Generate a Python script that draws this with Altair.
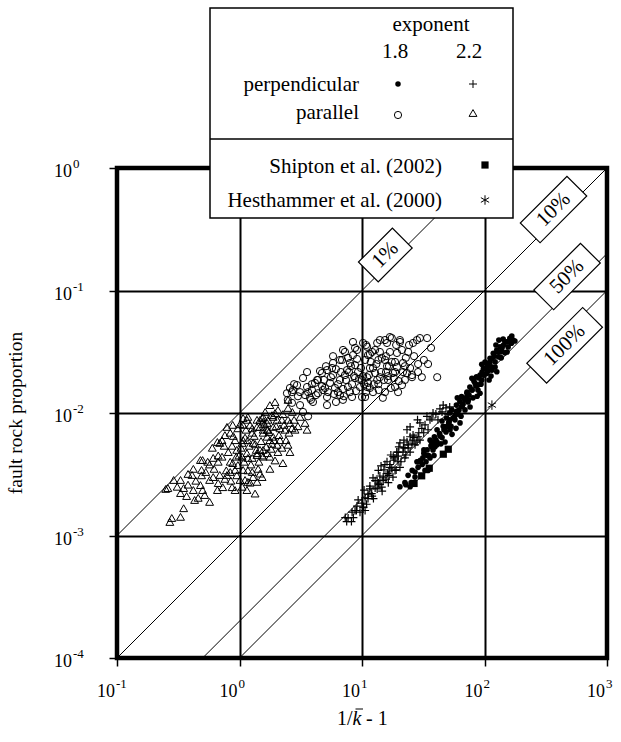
import altair as alt
import pandas as pd

# ---------------- data ----------------
# parallel, exponent 1.8 (open circles)
circ_x = [2.58, 2.68, 2.95, 3.12, 3.43, 3.63, 3.76, 4.13, 3.98, 4.37, 4.72, 4.80, 5.18, 5.18, 5.48,
          5.80, 6.02, 6.37, 6.61, 6.87, 6.99, 7.26, 7.54, 7.68, 7.98, 8.29, 8.44, 8.77, 9.11, 9.28,
          9.63, 10.0, 10.2, 10.6, 11.0, 11.2, 11.6, 12.1, 12.3, 12.8, 13.3, 13.6, 14.0, 14.8, 15.4,
          16.0, 16.3, 16.9, 17.5, 17.9, 18.6, 19.3, 20.4, 21.2, 21.6, 23.3, 25.6, 26.1, 28.1, 29.7,
          3.12, 3.30, 3.63, 2.48, 2.68, 16.9, 20.4, 34.0, 28.7, 34.6, 41.1, 30.8, 25.6, 15.4, 10.6,
          5.7, 7.26, 8.77, 10.0, 11.6, 13.6, 15.7, 18.6, 22.4, 7.98, 6.61, 4.99, 4.37, 3.9, 19.0,
          23.8, 14.0, 11.2, 7.0, 8.44, 11.0, 14.0, 16.0, 5.8, 6.61, 5.18, 4.30, 3.56, 2.73, 2.44,
          3.30, 3.56, 3.90, 4.21, 4.54, 4.89, 5.28, 5.58, 6.13, 6.37, 6.99, 7.40, 7.83, 8.29, 8.94,
          9.45, 9.81, 10.4, 10.8, 11.4, 11.8, 12.5, 13.1, 13.7, 14.3, 15.1, 15.7, 16.6, 17.2, 18.2,
          19.3, 20.0, 21.6, 22.8, 24.7, 12.8, 10.8, 8.77, 7.68, 5.80,
          4.72, 5.08, 5.91, 6.73, 7.12, 8.13, 8.61, 9.11, 10.2, 11.0, 11.6, 12.3, 13.3, 14.5, 15.4,
          16.3, 17.5, 18.6, 19.7, 21.2, 22.4, 24.2, 26.6, 28.7, 32.0, 36.6, 3.0, 2.79, 3.83, 6.13]
circ_y = [0.0160, 0.0148, 0.0169, 0.0148, 0.0140, 0.0148, 0.0133, 0.0176, 0.0123, 0.0145, 0.0212, 0.0154, 0.0135, 0.0116, 0.0176,
          0.0204, 0.0160, 0.0148, 0.0186, 0.0271, 0.0128, 0.0315, 0.0224, 0.0163, 0.0256, 0.0135, 0.0297, 0.0193, 0.0327, 0.0216,
          0.0163, 0.0135, 0.0373, 0.0271, 0.0196, 0.0176, 0.0233, 0.0315, 0.0148, 0.0212, 0.0373, 0.0271, 0.0196, 0.0133, 0.0394,
          0.0241, 0.0186, 0.0315, 0.0409, 0.0212, 0.0163, 0.0309, 0.0380, 0.0169, 0.0256, 0.0212, 0.0196, 0.0373, 0.0394, 0.0409,
          0.0116, 0.0102, 0.0094, 0.0128, 0.0121, 0.0417, 0.0394, 0.0409, 0.0251, 0.0251, 0.0196, 0.0196, 0.0204, 0.0271, 0.0135,
          0.0233, 0.0204, 0.0246, 0.0186, 0.0160, 0.0172, 0.0216, 0.0261, 0.0241, 0.0148, 0.0140, 0.0160, 0.0186, 0.0154, 0.0359,
          0.0315, 0.0315, 0.0297, 0.0327, 0.0380, 0.0347, 0.0394, 0.0373, 0.0256, 0.0271, 0.0224, 0.0186, 0.0163, 0.0154, 0.0145,
          0.0193, 0.0216, 0.0172, 0.0140, 0.0220, 0.0186, 0.0148, 0.0196, 0.0228, 0.0172, 0.0157, 0.0186, 0.0216, 0.0172, 0.0151,
          0.0190, 0.0233, 0.0172, 0.0148, 0.0204, 0.0261, 0.0172, 0.0251, 0.0154, 0.0216, 0.0186, 0.0291, 0.0241, 0.0160, 0.0193,
          0.0237, 0.0182, 0.0216, 0.0282, 0.0233, 0.0327, 0.0359, 0.0340, 0.0282, 0.0291,
          0.0166, 0.0241, 0.0143, 0.0216, 0.0137, 0.0241, 0.0200, 0.0276, 0.0200, 0.0163, 0.0303, 0.0233, 0.0186, 0.0282, 0.0148,
          0.0200, 0.0261, 0.0216, 0.0148, 0.0327, 0.0186, 0.0359, 0.0291, 0.0216, 0.0271, 0.0340, 0.0137, 0.0172, 0.0128, 0.0123]

# parallel, exponent 2.2 (open triangles)
tri_x = [0.27, 0.28, 0.33, 0.35, 0.25, 0.26, 0.29, 0.33, 0.33, 0.35, 0.38, 0.41, 0.42, 0.43, 0.46,
         0.48, 0.49, 0.50, 0.52, 0.57, 0.57, 0.61, 0.66, 0.67, 0.69, 0.73, 0.76, 0.79, 0.84, 0.87,
         0.92, 0.48, 0.50, 0.55, 0.61, 0.67, 0.72, 0.66, 0.69, 0.76, 0.79, 0.88, 0.84, 0.92, 0.95,
         0.88, 0.92, 0.97, 1.01, 1.11, 1.15, 1.17, 1.34, 1.39, 1.27, 1.47, 1.07, 1.05, 1.15, 1.27,
         1.39, 1.56, 1.05, 1.11, 1.17, 1.29, 1.27, 1.07, 1.15, 1.22, 1.39, 1.56, 1.71, 1.53, 1.68,
         1.07, 1.17, 1.47, 1.22, 1.39, 1.47, 1.56, 1.68, 1.77, 1.95, 2.03, 2.22, 2.26, 2.49, 2.58,
         1.56, 1.68, 1.84, 1.95, 2.14, 2.35, 2.58, 2.84, 3.12, 3.43, 3.56, 1.71, 1.88, 2.03, 2.49,
         1.56, 1.77, 1.88, 2.14, 2.49, 2.70, 2.22, 1.88, 1.77, 1.95, 2.49, 2.06, 1.56, 1.47,
         0.81, 0.87, 0.94, 0.97, 1.03, 1.09, 1.13, 1.20, 1.24, 1.32, 1.37, 1.44, 1.50, 1.59, 1.65,
         1.74, 1.81, 1.91, 1.99, 2.10, 2.31, 2.53, 2.79, 3.0, 0.78, 0.85, 0.95, 1.05, 1.29, 1.42,
         0.53, 0.62, 0.44, 0.37, 0.31, 0.72, 0.60, 1.62, 2.26,
         0.89, 0.99, 1.07, 1.17, 1.27, 1.34, 1.53, 1.68, 1.84, 2.06, 2.40, 2.68, 0.84, 0.67, 0.75,
         0.57, 0.49, 0.42, 0.38, 1.17, 1.53, 1.77, 1.01, 1.39]
tri_y = [0.00129, 0.00139, 0.00142, 0.00167, 0.0024, 0.00244, 0.00284, 0.00284, 0.00222, 0.00244, 0.00318, 0.00312, 0.00235, 0.00195, 0.00203,
         0.00258, 0.00343, 0.00235, 0.00214, 0.00188, 0.00284, 0.0030, 0.00235, 0.00268, 0.00312, 0.00248, 0.0029, 0.00312, 0.0033, 0.00248,
         0.00235, 0.00413, 0.00413, 0.0040, 0.0043, 0.0040, 0.0044, 0.0058, 0.0057, 0.0066, 0.0077, 0.0080, 0.0069, 0.0060, 0.0050,
         0.0039, 0.00343, 0.00376, 0.00284, 0.00284, 0.00235, 0.00274, 0.0022, 0.00274, 0.0033, 0.0032, 0.00343, 0.0044, 0.0047, 0.0043,
         0.00454, 0.0050, 0.0057, 0.0063, 0.0060, 0.0057, 0.0069, 0.0080, 0.0088, 0.0080, 0.0077, 0.0073, 0.0088, 0.0091, 0.0064,
         0.0091, 0.0093, 0.0088, 0.0027, 0.0047, 0.0050, 0.0044, 0.0047, 0.0044, 0.0041, 0.0055, 0.0052, 0.0039, 0.0055, 0.0048,
         0.0093, 0.0083, 0.0096, 0.0100, 0.0075, 0.0073, 0.0083, 0.0073, 0.0093, 0.0083, 0.0073, 0.0073, 0.0077, 0.0088, 0.0088,
         0.0069, 0.0060, 0.0064, 0.0060, 0.0110, 0.0102, 0.0088, 0.0093, 0.0116, 0.0123, 0.0128, 0.0106, 0.0085, 0.0077,
         0.0048, 0.0054, 0.0044, 0.0075, 0.0052, 0.0040, 0.0073, 0.0054, 0.0038, 0.0065, 0.0050, 0.0040, 0.0059, 0.0081, 0.0053,
         0.0070, 0.0051, 0.0060, 0.0078, 0.0066, 0.0080, 0.0069, 0.0088, 0.0078, 0.0034, 0.0028, 0.0031, 0.0025, 0.0030, 0.0035,
         0.0033, 0.0035, 0.0028, 0.0021, 0.0025, 0.0060, 0.0052, 0.0102, 0.0098,
         0.0065, 0.0045, 0.0060, 0.0043, 0.0075, 0.0056, 0.0045, 0.0073, 0.0056, 0.0048, 0.0060, 0.0075, 0.0040, 0.0045, 0.0054,
         0.0038, 0.0031, 0.0035, 0.0026, 0.0034, 0.0030, 0.0035, 0.0081, 0.0088]

# perpendicular, exponent 1.8 (filled dots)
dot_x = [161, 171, 152, 143, 166, 134, 126, 138, 118, 130, 111, 122, 104, 114, 126, 98, 104, 92, 95, 86,
         84, 76, 79, 72, 65, 74, 63, 59, 65, 54, 52, 57, 49, 51, 45, 46, 41, 43, 39, 41,
         36, 37, 34, 35, 32, 30, 31, 25.7, 23.8, 27.1, 22.4, 20.4, 24.7, 28.7, 32.7, 38, 147, 107, 88, 69,
         59, 48, 37, 79, 95, 115, 60, 52,
         31.4, 28.7, 34.0, 36.6, 33.3, 40.1, 38.0, 43.3, 40.9, 46.7, 45.0, 49.5, 52.3, 55.3, 51.3,
         60.7, 57.4, 65.6, 61.9, 70.6, 66.8, 74.7, 79.2, 73.3, 85.2, 82.1, 90.1, 95.5, 88.4, 103,
         99.1, 111, 107, 120, 115, 129, 124, 139, 134, 147, 156, 142, 167, 153, 177, 34.6, 38.7,
         47.6, 54.3, 63.1, 76.2, 91.9, 109, 25.2, 27.1, 22.8,
         28.1, 32.0, 35.9, 39.4, 44.1, 48.5, 53.3, 58.5, 64.3, 69.3, 72.0, 80.6, 87, 93.6, 101,
         113, 122, 131, 137, 158]
dot_y = [0.0407, 0.0394, 0.0381, 0.0359, 0.0371, 0.0347, 0.0327, 0.0317, 0.0307, 0.0288, 0.0280, 0.0262, 0.0254, 0.0238, 0.0217, 0.0231, 0.0210, 0.0204, 0.0186, 0.0197,
         0.0174, 0.0163, 0.0154, 0.0145, 0.0136, 0.0128, 0.0124, 0.0116, 0.0113, 0.0106, 0.0100, 0.0094, 0.0091, 0.0083, 0.0086, 0.0078, 0.0073, 0.0068, 0.0064, 0.0058,
         0.0060, 0.0053, 0.0050, 0.0045, 0.0047, 0.0041, 0.0038, 0.0034, 0.0031, 0.0030, 0.0027, 0.0025, 0.0025, 0.0040, 0.0034, 0.0058, 0.031, 0.0220, 0.0169, 0.0128,
         0.0103, 0.0076, 0.0055, 0.0192, 0.0250, 0.0280, 0.0133, 0.0088,
         0.0043, 0.0036, 0.0045, 0.0054, 0.0040, 0.0060, 0.0050, 0.0065, 0.0055, 0.0073, 0.0063, 0.0078, 0.0073, 0.0091, 0.0084,
         0.0098, 0.0088, 0.0114, 0.0106, 0.0133, 0.0118, 0.0140, 0.0154, 0.0123, 0.0166, 0.0182, 0.0193, 0.0216, 0.0154, 0.0233,
         0.0204, 0.0261, 0.0241, 0.0291, 0.0224, 0.0315, 0.0359, 0.0340, 0.0286, 0.0379, 0.0346, 0.0401, 0.0425, 0.0315, 0.0387, 0.0034, 0.0045,
         0.0058, 0.0067, 0.0083, 0.0112, 0.0145, 0.0186, 0.0027, 0.0033, 0.0026,
         0.0040, 0.0050, 0.0043, 0.0053, 0.0056, 0.0070, 0.0078, 0.0075, 0.0094, 0.0106, 0.0148, 0.0133, 0.0137, 0.0172, 0.0261,
         0.0200, 0.0237, 0.0394, 0.0282, 0.0380]

# perpendicular, exponent 2.2 (plus signs)
plus_x = [20.4, 21.8, 23.8, 18.0, 19.7, 22.4, 16.9, 18.6, 20.4, 16.2, 17.9, 14.9, 16.4, 14.0, 12.8,
          13.3, 14.6, 12.0, 12.4, 11.2, 10.9, 10.6, 8.77, 8.5, 10.2, 26, 28.7, 24.7, 23.3, 11.6,
          10.3, 9.0, 7.5, 8.2, 7.3, 13.3, 14.9, 16.9, 19.2, 24.7, 23.3, 28.4, 29.7, 33.9, 31.9,
          38.0, 35.9, 26.1, 43.3, 46, 52, 15.4, 18.6, 13.6, 16.6, 19.7, 22.4, 27.1, 29.7,
          7.7, 8.3, 9.1, 9.63, 9.3, 10.0, 10.6, 11.2, 10.4, 11.6, 12.1, 12.8, 12.3, 13.6, 14.0,
          14.5, 15.1, 15.7, 16.6, 16.0, 17.5, 18.2, 19.0, 19.7, 20.8, 21.6, 22.8, 23.8, 24.7, 25.6,
          26.6, 28.1, 29.1, 30.8, 32.7, 34.6, 37.2, 40.1, 41.7, 45.0, 48.5, 50.4, 22.0, 20.0, 17.2, 14.3]
plus_y = [0.0057, 0.0052, 0.0055, 0.0044, 0.0040, 0.0043, 0.0038, 0.0034, 0.0036, 0.0032, 0.0030, 0.0028, 0.0027, 0.0026, 0.0028,
          0.0024, 0.0023, 0.0022, 0.0020, 0.0020, 0.0018, 0.0016, 0.0016, 0.0014, 0.0017, 0.0060, 0.0064, 0.0064, 0.0058, 0.0024,
          0.0017, 0.0016, 0.0013, 0.0013, 0.0014, 0.0028, 0.0030, 0.0036, 0.0048, 0.0077, 0.0073, 0.0088, 0.0083, 0.0094, 0.0069,
          0.0100, 0.0088, 0.0066, 0.0108, 0.0116, 0.0112, 0.0038, 0.0043, 0.0034, 0.0031, 0.0048, 0.0052, 0.0055, 0.0060,
          0.00139, 0.00155, 0.00174, 0.00155, 0.00195, 0.00184, 0.00203, 0.00218, 0.00235, 0.00253, 0.0021, 0.00244, 0.00295, 0.00268, 0.00306,
          0.00248, 0.00343, 0.00289, 0.0033, 0.0040, 0.00356, 0.00413, 0.00343, 0.00445, 0.0040, 0.0048, 0.00454, 0.0052, 0.0048, 0.0056,
          0.0063, 0.0058, 0.0069, 0.0075, 0.0080, 0.0073, 0.0091, 0.0098, 0.0088, 0.0102, 0.0110, 0.0098, 0.0060, 0.0053, 0.00454, 0.0037]

# Shipton et al. (2002) and Hesthammer et al. (2000)
shipton_x = [26.6, 30.7, 35.4, 46.1, 50.6]
shipton_y = [0.00266, 0.00307, 0.00354, 0.00461, 0.00506]
hest_x = [115]
hest_y = [0.0116]

# reference lines: label, proportionality constant, label anchor
pct_labels = ["1%", "10%", "50%", "100%"]
pct_coef = [0.01, 0.001, 0.0002, 0.0001]
pct_lx = [15.5, 366, 472, 451]
pct_ly = [0.195, 0.458, 0.130, 0.0357]

# axis ticks
x_ticks = [0.1, 1, 10, 100, 1000]
x_exp = ["-1", "0", "1", "2", "3"]
y_ticks = [0.0001, 0.001, 0.01, 0.1, 1]
y_exp = ["-4", "-3", "-2", "-1", "0"]

# ---------------- chart ----------------
FONT = "Liberation Serif"
W = H = 490

xs = alt.Scale(type="log", domain=[0.1, 1000], nice=False)
ys = alt.Scale(type="log", domain=[0.0001, 1], nice=False)
axis_common = dict(labels=False, title=None, grid=True, gridColor="black", gridWidth=2,
                   gridOpacity=1, ticks=True, tickSize=8, tickWidth=1.5, tickColor="black",
                   domain=False)
xaxis = alt.Axis(values=x_ticks, **axis_common)
yaxis = alt.Axis(values=y_ticks, **axis_common)


def X():
    return alt.X("x:Q", scale=xs, axis=xaxis)


def Y():
    return alt.Y("y:Q", scale=ys, axis=yaxis)


one = pd.DataFrame({"k": [0]})


def df(xv, yv):
    return pd.DataFrame({"x": xv, "y": yv})


layers = []

# reference lines y = c * x
diag_rows = []
for lab, c in zip(pct_labels, pct_coef):
    for xv in (0.01, 10000):
        diag_rows.append({"x": xv, "y": c * xv, "lab": lab})
layers.append(alt.Chart(pd.DataFrame(diag_rows)).mark_line(clip=True, color="black", strokeWidth=1)
              .encode(x=X(), y=Y(), detail="lab:N"))

PLUS = "M-1,0L1,0M0,-1L0,1"
AST = "M0,-1L0,1M-0.87,-0.5L0.87,0.5M-0.87,0.5L0.87,-0.5"

layers.append(alt.Chart(df(tri_x, tri_y)).mark_point(shape="triangle-up", filled=False, color="black",
              size=62, strokeWidth=1, opacity=1).encode(x=X(), y=Y()))
layers.append(alt.Chart(df(circ_x, circ_y)).mark_point(shape="circle", filled=False, color="black",
              size=52, strokeWidth=1, opacity=1).encode(x=X(), y=Y()))
layers.append(alt.Chart(df(plus_x, plus_y)).mark_point(shape=PLUS, filled=False, color="black",
              size=64, strokeWidth=1.2, opacity=1).encode(x=X(), y=Y()))
layers.append(alt.Chart(df(dot_x, dot_y)).mark_point(shape="circle", filled=True, color="black",
              size=32, opacity=1).encode(x=X(), y=Y()))
layers.append(alt.Chart(df(shipton_x, shipton_y)).mark_point(shape="square", filled=True, color="black",
              size=52, opacity=1).encode(x=X(), y=Y()))
layers.append(alt.Chart(df(hest_x, hest_y)).mark_point(shape=AST, filled=False, color="black",
              size=90, strokeWidth=1, opacity=1).encode(x=X(), y=Y()))

# label boxes on the reference lines
box_len = {"1%": 48, "10%": 66, "50%": 66, "100%": 79}
BOX_W = 28
for lab, lx, ly in zip(pct_labels, pct_lx, pct_ly):
    L = box_len[lab]
    h = BOX_W / L
    path = f"M-1,-{h:.3f}L1,-{h:.3f}L1,{h:.3f}L-1,{h:.3f}Z"
    d = pd.DataFrame({"x": [lx], "y": [ly], "t": [lab]})
    layers.append(alt.Chart(d).mark_point(shape=path, size=L * L, angle=315, filled=True, fill="white",
                  stroke="black", strokeWidth=1.2, opacity=1).encode(x=X(), y=Y()))
    layers.append(alt.Chart(d).mark_text(angle=315, align="center", baseline="middle", font=FONT,
                  fontSize=21, color="black").encode(x=X(), y=Y(), text="t:N"))

# plot border
layers.append(alt.Chart(one).mark_rect(filled=False, stroke="black", strokeWidth=4.5)
              .encode(x=alt.value(0), x2=alt.value(W), y=alt.value(0), y2=alt.value(H)))

# tick labels
xt = pd.DataFrame({"x": x_ticks, "e": x_exp})
layers.append(alt.Chart(xt).mark_text(text="10", align="right", baseline="alphabetic", dx=-2,
              font=FONT, fontSize=18, color="black").encode(x=X(), y=alt.value(529)))
layers.append(alt.Chart(xt).mark_text(align="left", baseline="alphabetic", dx=-1,
              font=FONT, fontSize=13, color="black").encode(x=X(), y=alt.value(520), text="e:N"))
yt = pd.DataFrame({"y": y_ticks, "e": y_exp})
layers.append(alt.Chart(yt).mark_text(text="10", align="right", baseline="alphabetic", dy=9,
              font=FONT, fontSize=18, color="black").encode(x=alt.value(-45), y=Y()))
layers.append(alt.Chart(yt).mark_text(align="left", baseline="alphabetic", dy=0,
              font=FONT, fontSize=13, color="black").encode(x=alt.value(-44), y=Y(), text="e:N"))


def txt(s, x, y, align="center", size=21, **kw):
    return alt.Chart(one).mark_text(text=s, align=align, baseline="alphabetic", font=FONT,
                                    fontSize=size, color="black", **kw).encode(
        x=alt.value(x), y=alt.value(y))


def sym(shape, x, y, size, filled, **kw):
    return alt.Chart(one).mark_point(shape=shape, size=size, filled=filled, color="black",
                                     opacity=1, strokeWidth=1, **kw).encode(
        x=alt.value(x), y=alt.value(y))


# axis titles
layers.append(alt.Chart(one).mark_text(text="fault rock proportion", angle=270, align="center",
              baseline="middle", font=FONT, fontSize=19.5, color="black")
              .encode(x=alt.value(-101), y=alt.value(245)))
layers.append(txt("1/", 235.5, 557, align="right", size=20))
layers.append(txt("k", 235.5, 557, align="left", size=20, fontStyle="italic"))
layers.append(txt("- 1", 249, 557, align="left", size=20))
layers.append(alt.Chart(one).mark_rule(color="black", strokeWidth=1)
              .encode(x=alt.value(238.5), x2=alt.value(246), y=alt.value(541)))

# legend
layers.append(alt.Chart(one).mark_rect(fill="white", stroke="black", strokeWidth=1.5)
              .encode(x=alt.value(93), x2=alt.value(396), y=alt.value(-160), y2=alt.value(50)))
layers.append(alt.Chart(one).mark_rule(color="black", strokeWidth=1.5)
              .encode(x=alt.value(93), x2=alt.value(396), y=alt.value(-29)))
layers.append(txt("exponent", 314, -137))
layers.append(txt("1.8", 278, -110))
layers.append(txt("2.2", 352, -110))
layers.append(txt("perpendicular", 242, -77, align="right"))
layers.append(txt("parallel", 242, -49, align="right"))
layers.append(txt("Shipton et al. (2002)", 325, 5, align="right"))
layers.append(txt("Hesthammer et al. (2000)", 325, 39, align="right"))
layers.append(sym("circle", 281, -84, 30, True))
layers.append(sym(PLUS, 356, -84, 64, False))
layers.append(sym("circle", 281, -53, 52, False))
layers.append(sym("triangle-up", 356, -55, 62, False))
layers.append(sym("square", 368, -3, 52, True))
layers.append(sym(AST, 368, 32, 90, False))

chart = alt.layer(*layers).properties(
    width=W, height=H,
    padding={"left": 117, "top": 168, "right": 14, "bottom": 84},
    autosize=alt.AutoSizeParams(type="none"),
).configure_view(stroke=None).configure(background="white")

chart.save("out.html", embed_options={"renderer": "svg", "actions": False})
